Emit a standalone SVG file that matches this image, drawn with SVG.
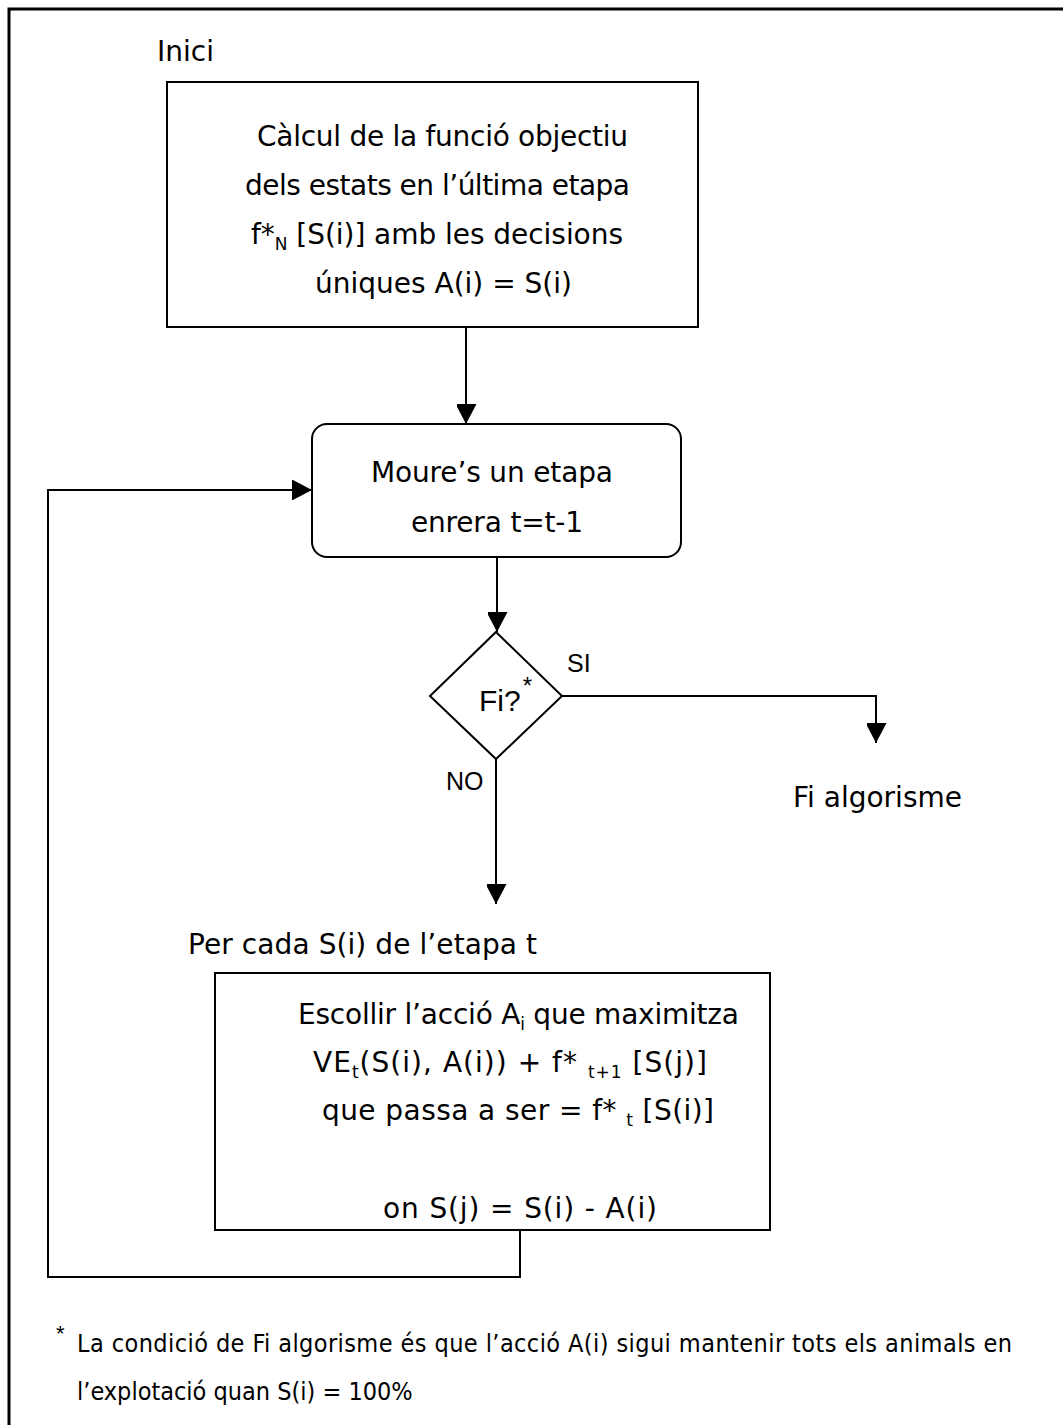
<svg xmlns="http://www.w3.org/2000/svg" width="1063" height="1425" viewBox="0 0 1063 1425">
  <style>
    .frame { fill: none; stroke: #000; stroke-width: 3; }
    .box { fill: #fff; stroke: #000; stroke-width: 2; }
    .wire { fill: none; stroke: #000; stroke-width: 2; }
    .t { font-family: "DejaVu Sans", Verdana, sans-serif; font-size: 28px; fill: #000; }
    .sub { font-size: 17px; }
    .a { font-family: "Liberation Sans", Arial, sans-serif; fill: #000; }
    .note { font-family: "DejaVu Sans Condensed", "DejaVu Sans", sans-serif; font-size: 25px; fill: #000; }
  </style>
  <defs>
    <marker id="arrow" markerWidth="21" markerHeight="20" refX="20" refY="10.5" orient="auto" markerUnits="userSpaceOnUse">
      <path d="M0,0 L20,10.5 L0,21 Z" fill="#000"/>
    </marker>
  </defs>

  <rect width="1063" height="1425" fill="#fff"/>
  <!-- page frame (right and bottom edges fall outside the sheet) -->
  <rect class="frame" x="9" y="9" width="1070" height="1430"/>

  <!-- connectors -->
  <g id="connectors">
    <line class="wire" x1="466" y1="327" x2="466" y2="424" marker-end="url(#arrow)"/>
    <line class="wire" x1="497" y1="557" x2="497" y2="632" marker-end="url(#arrow)"/>
    <polyline class="wire" points="562,696 876,696 876,743" marker-end="url(#arrow)"/>
    <line class="wire" x1="496" y1="759" x2="496" y2="904" marker-end="url(#arrow)"/>
    <polyline class="wire" points="520,1230 520,1277 48,1277 48,490 312,490" marker-end="url(#arrow)"/>
  </g>

  <text class="t" x="157" y="61">Inici</text>

  <g id="calcul">
    <rect class="box" x="167" y="82" width="531" height="245"/>
    <text class="t" x="257" y="146" textLength="371">Càlcul de la funció objectiu</text>
    <text class="t" x="245" y="195" textLength="385">dels estats en l’última etapa</text>
    <text class="t" x="251" y="244" textLength="372">f*<tspan class="sub" dy="6">N</tspan><tspan dy="-6"> [S(i)] amb les decisions</tspan></text>
    <text class="t" x="315" y="293" textLength="257">úniques A(i) = S(i)</text>
  </g>

  <g id="moure">
    <rect class="box" x="312" y="424" width="369" height="133" rx="15" ry="15"/>
    <text class="t" x="371" y="482" textLength="242">Moure’s un etapa</text>
    <text class="t" x="411" y="532" textLength="172">enrera t=t-1</text>
  </g>

  <g id="fi">
    <polygon class="box" points="496,632 562,696 496,759 430,696"/>
    <text class="a" x="479" y="711" font-size="30">Fi?<tspan font-size="24" dx="2" dy="-17">*</tspan></text>
  </g>

  <text class="a" x="567" y="672" font-size="25">SI</text>
  <text class="a" x="446" y="790" font-size="25">NO</text>

  <g id="fi-algorisme">
    <text class="t" x="793" y="807">Fi algorisme</text>
  </g>

  <text class="t" x="188" y="954" textLength="349">Per cada S(i) de l’etapa t</text>

  <g id="escollir">
    <rect class="box" x="215" y="973" width="555" height="257"/>
    <text class="t" x="298" y="1024" textLength="441">Escollir l’acció A<tspan class="sub" dy="6">i</tspan><tspan dy="-6"> que maximitza</tspan></text>
    <text class="t" x="313" y="1072" textLength="394">VE<tspan class="sub" dy="6">t</tspan><tspan dy="-6">(S(i), A(i)) + f* </tspan><tspan class="sub" dy="6">t+1</tspan><tspan dy="-6"> [S(j)]</tspan></text>
    <text class="t" x="322" y="1120" textLength="392">que passa a ser = f* <tspan class="sub" dy="6">t</tspan><tspan dy="-6"> [S(i)]</tspan></text>
    <text class="t" x="383" y="1218" textLength="274">on S(j) = S(i) - A(i)</text>
  </g>

  <g id="footnote">
    <text class="a" x="56" y="1341" font-size="22">*</text>
    <text class="note" x="77" y="1352" textLength="935">La condició de Fi algorisme és que l’acció A(i) sigui mantenir tots els animals en</text>
    <text class="note" x="77" y="1400">l’explotació quan S(i) = 100%</text>
  </g>
</svg>
